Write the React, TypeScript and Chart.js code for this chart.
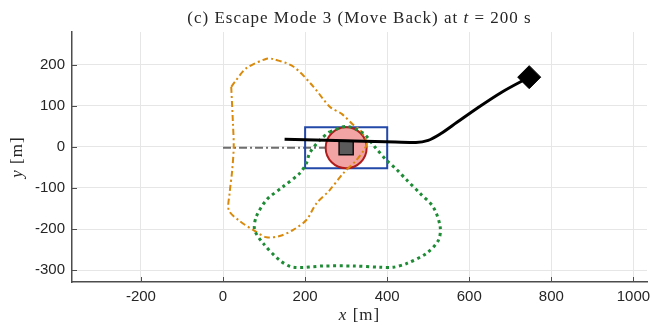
import React, { useEffect, useRef } from "react";
import { Chart, registerables } from "chart.js";

Chart.register(...registerables);

// Axis setup
const xTicks = [-200, 0, 200, 400, 600, 800, 1000];
const yTicks = [-300, -200, -100, 0, 100, 200];
const xRange = [-368, 1033];
const yRange = [-329, 280];

// Black trajectory (x, y) in metres
const trajectoryX = [150, 300, 420, 470, 500, 530, 570, 620, 680, 746];
const trajectoryY = [19, 15, 12, 11, 16, 32, 60, 95, 134, 170];

// Current position marker (diamond)
const headX = [746];
const headY = [170];

// Orange dash-dot closed region
const orangeX = [20, 24, 26, 22, 16, 14, 40, 81, 106, 138, 171, 203, 228, 260, 293, 325, 345, 350, 335, 317, 290, 260, 220, 171, 122, 106, 57, 30, 20];
const orangeY = [146, 60, 0, -60, -113, -154, -180, -207, -220, -217, -202, -178, -137, -105, -64, -32, -5, 10, 40, 54, 80, 98, 147, 196, 214, 215, 192, 160, 146];

// Green dotted closed region
const greenX = [260, 301, 342, 370, 398, 423, 447, 480, 512, 529, 525, 496, 447, 415, 382, 317, 244, 171, 138, 98, 77, 81, 106, 146, 187, 203, 211, 236, 260];
const greenY = [37, 50, 33, 0, -32, -55, -80, -113, -146, -194, -227, -259, -284, -293, -293, -290, -290, -293, -276, -235, -202, -170, -129, -97, -64, -40, -15, 17, 37];

// Blue box corners
const boxX = [200, 400, 400, 200, 200];
const boxY = [-52, -52, 48, 48, -52];

// Gray dash-dot reference line
const refX = [0, 300];
const refY = [-2, -2];

// Obstacle centre (circle + square)
const obstacleX = [300];
const obstacleY = [-2];

const pts = (xs: number[], ys: number[]) => xs.map((x, i) => ({ x, y: ys[i] }));

const AXIS_COLOR = "#4d4d4d";
const TEXT_COLOR = "#262626";
const GRID_COLOR = "#e6e6e6";
const SERIF = "'Liberation Serif', 'Times New Roman', serif";
const SANS = "'Liberation Sans', Arial, Helvetica, sans-serif";

const textPlugin = {
  id: "customText",
  beforeDatasetsDraw(chart: any) {
    const { ctx, chartArea, scales } = chart;
    ctx.save();
    ctx.strokeStyle = AXIS_COLOR;
    ctx.lineWidth = 1;
    const tl = 5;
    xTicks.forEach((v) => {
      const px = Math.round(scales.x.getPixelForValue(v)) + 0.5;
      ctx.beginPath();
      ctx.moveTo(px, chartArea.bottom);
      ctx.lineTo(px, chartArea.bottom - tl);
      ctx.stroke();
    });
    yTicks.forEach((v) => {
      const py = Math.round(scales.y.getPixelForValue(v)) + 0.5;
      ctx.beginPath();
      ctx.moveTo(chartArea.left, py);
      ctx.lineTo(chartArea.left + tl, py);
      ctx.stroke();
    });
    ctx.restore();
  },
  afterDraw(chart: any) {
    const { ctx, chartArea } = chart;
    const cx = (chartArea.left + chartArea.right) / 2;
    const drawParts = (parts: [string, string][], x: number, y: number, spacing: number) => {
      ctx.letterSpacing = `${spacing}px`;
      let total = 0;
      parts.forEach(([t, f]) => {
        ctx.font = f;
        total += ctx.measureText(t).width;
      });
      let px = x - total / 2;
      parts.forEach(([t, f]) => {
        ctx.font = f;
        ctx.fillText(t, px, y);
        px += ctx.measureText(t).width;
      });
      ctx.letterSpacing = "0px";
    };
    ctx.save();
    ctx.fillStyle = TEXT_COLOR;
    ctx.textBaseline = "alphabetic";
    ctx.textAlign = "left";
    const tf = `17px ${SERIF}`;
    const tfi = `italic 17px ${SERIF}`;
    drawParts(
      [
        ["(c) Escape Mode 3 (Move Back) at ", tf],
        ["t", tfi],
        [" = 200 s", tf],
      ],
      cx,
      23,
      1
    );
    const lf = `17px ${SERIF}`;
    const lfi = `italic 17px ${SERIF}`;
    drawParts(
      [
        ["x", lfi],
        [" [m]", lf],
      ],
      cx,
      320,
      1
    );
    ctx.translate(22, (chartArea.top + chartArea.bottom) / 2);
    ctx.rotate(-Math.PI / 2);
    drawParts(
      [
        ["y", lfi],
        [" [m]", lf],
      ],
      0,
      0,
      1
    );
    ctx.restore();
  },
};

export default function App() {
  const ref = useRef<HTMLCanvasElement>(null);

  useEffect(() => {
    if (!ref.current) return;
    const chart = new Chart(ref.current, {
      type: "scatter",
      data: {
        datasets: [
          {
            label: "head",
            data: pts(headX, headY),
            pointStyle: "rectRot",
            pointRadius: 11.5,
            backgroundColor: "#000",
            borderColor: "#000",
            borderWidth: 1,
            showLine: false,
            order: 0,
          },
          {
            label: "trajectory",
            data: pts(trajectoryX, trajectoryY),
            showLine: true,
            borderColor: "#000",
            borderWidth: 3,
            pointRadius: 0,
            cubicInterpolationMode: "monotone",
            order: 1,
          },
          {
            label: "square",
            data: pts(obstacleX, obstacleY),
            pointStyle: "rect",
            pointRadius: 10,
            backgroundColor: "#5b5b5b",
            borderColor: "#111",
            borderWidth: 1.5,
            showLine: false,
            order: 2,
          },
          {
            label: "green",
            data: pts(greenX, greenY),
            showLine: true,
            borderColor: "#1e8b35",
            borderWidth: 3,
            borderDash: [3, 3.6],
            pointRadius: 0,
            tension: 0.3,
            order: 3,
          },
          {
            label: "orange",
            data: pts(orangeX, orangeY),
            showLine: true,
            borderColor: "#d98a0c",
            borderWidth: 2,
            borderDash: [6, 3, 2, 3],
            pointRadius: 0,
            tension: 0.3,
            order: 4,
          },
          {
            label: "circle",
            data: pts(obstacleX, obstacleY),
            pointStyle: "circle",
            pointRadius: 20.5,
            backgroundColor: "#f2a3a3",
            borderColor: "#b11d1d",
            borderWidth: 2,
            showLine: false,
            order: 5,
          },
          {
            label: "box",
            data: pts(boxX, boxY),
            showLine: true,
            borderColor: "#2248a8",
            borderWidth: 2,
            pointRadius: 0,
            tension: 0,
            order: 6,
          },
          {
            label: "reference",
            data: pts(refX, refY),
            showLine: true,
            borderColor: "#6e6e6e",
            borderWidth: 2,
            borderDash: [8, 3, 2, 3],
            pointRadius: 0,
            order: 7,
          },
        ],
      },
      options: {
        animation: false,
        responsive: false,
        layout: { autoPadding: false, padding: { top: 32, right: 4, left: 0, bottom: 0 } },
        plugins: {
          legend: { display: false },
          tooltip: { enabled: false },
          title: { display: false },
        },
        scales: {
          x: {
            type: "linear",
            min: xRange[0],
            max: xRange[1],
            afterBuildTicks: (s: any) => {
              s.ticks = xTicks.map((v) => ({ value: v }));
            },
            afterFit: (s: any) => {
              s.height = 44;
              s.paddingLeft = 0;
              s.paddingRight = 0;
            },
            grid: { color: GRID_COLOR, drawTicks: false, lineWidth: 1 },
            border: { display: true, color: AXIS_COLOR, width: 1.5 },
            ticks: {
              font: { family: SANS, size: 15 },
              color: TEXT_COLOR,
              padding: 6,
              maxRotation: 0,
              callback: (v: any) => String(v),
            },
          },
          y: {
            type: "linear",
            min: yRange[0],
            max: yRange[1],
            afterBuildTicks: (s: any) => {
              s.ticks = yTicks.map((v) => ({ value: v }));
            },
            afterFit: (s: any) => {
              s.width = 72;
              s.paddingTop = 0;
              s.paddingBottom = 0;
            },
            grid: { color: GRID_COLOR, drawTicks: false, lineWidth: 1 },
            border: { display: true, color: AXIS_COLOR, width: 1.5 },
            ticks: {
              font: { family: SANS, size: 15 },
              color: TEXT_COLOR,
              padding: 7,
              callback: (v: any) => String(v),
            },
          },
        },
      },
      plugins: [textPlugin],
    });
    return () => chart.destroy();
  }, []);

  return (
    <div style={{ position: "fixed", left: 0, top: 0, width: 651, height: 326, background: "#fff" }}>
      <canvas ref={ref} width={651} height={326} style={{ display: "block" }} />
    </div>
  );
}
